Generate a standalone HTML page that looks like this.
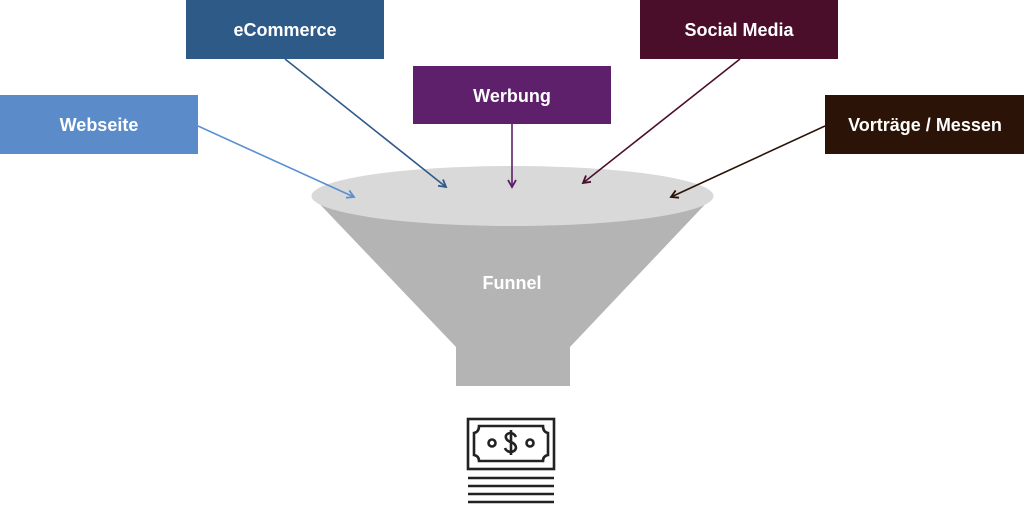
<!DOCTYPE html>
<html><head><meta charset="utf-8"><style>
html,body{margin:0;padding:0;background:#fff;width:1024px;height:507px;overflow:hidden}
svg text{font-family:"Liberation Sans",sans-serif;font-weight:bold;fill:#fff;text-anchor:middle}
</style></head><body>
<svg width="1024" height="507" viewBox="0 0 1024 507" xmlns="http://www.w3.org/2000/svg">
<defs>
<marker id="a1" markerWidth="10" markerHeight="10" refX="8" refY="5" orient="auto" markerUnits="userSpaceOnUse"><path d="M1,1 L8,5 L1,9" fill="none" stroke="#5B8FCF" stroke-width="1.8"/></marker>
<marker id="a2" markerWidth="10" markerHeight="10" refX="8" refY="5" orient="auto" markerUnits="userSpaceOnUse"><path d="M1,1 L8,5 L1,9" fill="none" stroke="#2F5A8A" stroke-width="1.8"/></marker>
<marker id="a3" markerWidth="10" markerHeight="10" refX="8" refY="5" orient="auto" markerUnits="userSpaceOnUse"><path d="M1,1 L8,5 L1,9" fill="none" stroke="#5E1F6B" stroke-width="1.8"/></marker>
<marker id="a4" markerWidth="10" markerHeight="10" refX="8" refY="5" orient="auto" markerUnits="userSpaceOnUse"><path d="M1,1 L8,5 L1,9" fill="none" stroke="#4B0F2E" stroke-width="1.8"/></marker>
<marker id="a5" markerWidth="10" markerHeight="10" refX="8" refY="5" orient="auto" markerUnits="userSpaceOnUse"><path d="M1,1 L8,5 L1,9" fill="none" stroke="#2B1407" stroke-width="1.8"/></marker>
</defs>
<path d="M312,196 L456,347 L456,386 L570,386 L570,347 L713,196 Z" fill="#b4b4b4"/>
<ellipse cx="512.5" cy="196" rx="201" ry="30" fill="#d9d9d9"/>
<text x="512" y="289" font-size="18">Funnel</text>
<rect x="0" y="95" width="198" height="59" fill="#5B8BC9"/>
<text x="99" y="131" font-size="18">Webseite</text>
<rect x="186" y="0" width="198" height="59" fill="#2E5A87"/>
<text x="285" y="36" font-size="18">eCommerce</text>
<rect x="413" y="66" width="198" height="58" fill="#5E1F6B"/>
<text x="512" y="102" font-size="18">Werbung</text>
<rect x="640" y="0" width="198" height="59" fill="#4A0D2A"/>
<text x="739" y="36" font-size="18">Social Media</text>
<rect x="825" y="95" width="199" height="59" fill="#2B1407"/>
<text x="925" y="131" font-size="18">Vorträge / Messen</text>
<line x1="198" y1="126" x2="354" y2="197" stroke="#5B8FCF" stroke-width="1.6" marker-end="url(#a1)"/>
<line x1="285" y1="59" x2="446" y2="187" stroke="#2F5A8A" stroke-width="1.6" marker-end="url(#a2)"/>
<line x1="512" y1="124" x2="512" y2="187" stroke="#5E1F6B" stroke-width="1.6" marker-end="url(#a3)"/>
<line x1="740" y1="59" x2="583" y2="183" stroke="#4B0F2E" stroke-width="1.6" marker-end="url(#a4)"/>
<line x1="825" y1="126" x2="671" y2="197" stroke="#2B1407" stroke-width="1.6" marker-end="url(#a5)"/>
<g fill="none" stroke="#222" stroke-width="2.6">
<rect x="468" y="419" width="86" height="50"/>
<path d="M479,426 L543,426 Q543,432 548,433 L548,455 Q543,456 543,461 L479,461 Q479,456 474,455 L474,433 Q479,432 479,426 Z"/>
<circle cx="492" cy="443" r="3.5"/>
<circle cx="530" cy="443" r="3.5"/>
<path d="M516,437 Q514,433 510,433 Q505,434 506,438 Q507,441 511,442 Q516,444 516,448 Q515,452 510,452 Q506,451 505,448 M511,430 L511,455"/>
<line x1="468" y1="478" x2="554" y2="478"/>
<line x1="468" y1="486" x2="554" y2="486"/>
<line x1="468" y1="494" x2="554" y2="494"/>
<line x1="468" y1="502" x2="554" y2="502"/>
</g>
</svg>
</body></html>
